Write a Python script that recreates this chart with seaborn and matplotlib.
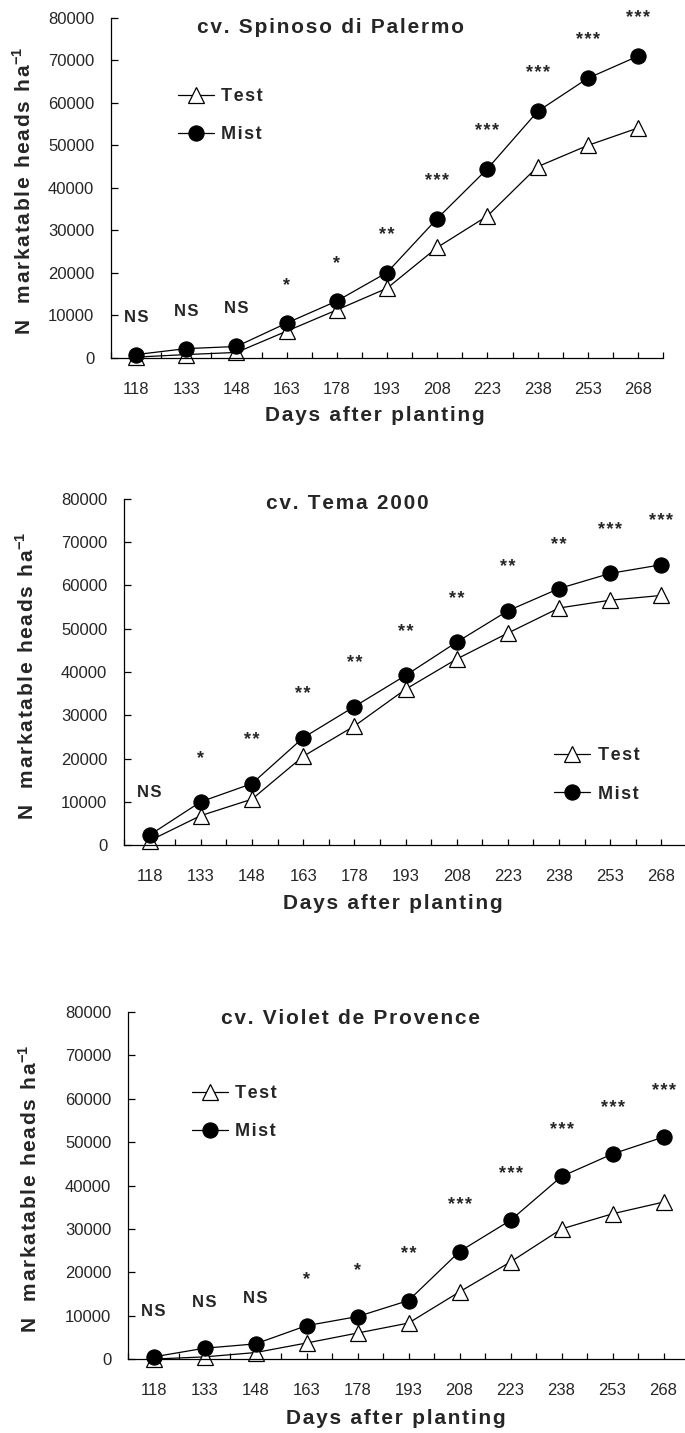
import numpy as np
import pandas as pd
import seaborn as sns
import matplotlib.pyplot as plt
from matplotlib.ticker import FixedLocator

# days after planting (x categories)
days = [118, 133, 148, 163, 178, 193, 208, 223, 238, 253, 268]

# cv. Spinoso di Palermo
spinoso_test = [200, 800, 1300, 6300, 11300, 16400, 26000, 33400, 45000, 50000, 54100]
spinoso_mist = [800, 2200, 2700, 8200, 13400, 20100, 32800, 44500, 58000, 65800, 71000]
spinoso_sig = ["NS", "NS", "NS", "*", "*", "**", "***", "***", "***", "***", "***"]

# cv. Tema 2000
tema_test = [1000, 6800, 10600, 20500, 27500, 36000, 43000, 49000, 54800, 56600, 57700]
tema_mist = [2300, 10000, 14200, 24800, 32000, 39200, 46900, 54150, 59300, 62800, 64800]
tema_sig = ["NS", "*", "**", "**", "**", "**", "**", "**", "**", "***", "***"]

# cv. Violet de Provence
violet_test = [0, 500, 1500, 3700, 6000, 8300, 15500, 22400, 30000, 33500, 36200]
violet_mist = [500, 2500, 3500, 7700, 9800, 13500, 24800, 32000, 42100, 47300, 51200]
violet_sig = ["NS", "NS", "NS", "*", "*", "**", "***", "***", "***", "***", "***"]

y_ticks = list(range(0, 80001, 10000))

sns.set_style("ticks")
plt.rcParams["font.family"] = ["Liberation Sans", "DejaVu Sans"]
plt.rcParams["mathtext.fontset"] = "custom"
plt.rcParams["mathtext.rm"] = "Liberation Sans"
plt.rcParams["mathtext.bf"] = "Liberation Sans:bold"

HAIR = "\u200a"


def spaced(s):
    # the original figure uses wide letter spacing in its bold labels
    return HAIR.join(s)


def draw_panel(ax, title, test, mist, sig, title_xy, legend_xy, sig_off, ylab_x):
    df = pd.DataFrame({"day": days, "Test": test, "Mist": mist})
    sns.lineplot(data=df, x="day", y="Test", ax=ax, color="black", lw=0.9,
                 marker="^", markersize=11, markerfacecolor="white",
                 markeredgecolor="black", markeredgewidth=0.9,
                 label=spaced("Test"), clip_on=False)
    sns.lineplot(data=df, x="day", y="Mist", ax=ax, color="black", lw=0.9,
                 marker="o", markersize=11, markerfacecolor="black",
                 markeredgecolor="black", label=spaced("Mist"), clip_on=False)

    for d, m, s in zip(days, mist, sig):
        ax.annotate(spaced(s), (d, m), xytext=(0, sig_off), textcoords="offset points",
                    ha="center", va="center",
                    fontsize=12 if s == "NS" else 13, fontweight="bold",
                    annotation_clip=False)

    step = (days[1] - days[0]) / 2
    ax.set_xlim(days[0] - step, days[-1] + step)
    ax.set_ylim(0, 80000)
    ax.set_xticks(days)
    ax.xaxis.set_minor_locator(FixedLocator(np.arange(days[0] - step, days[-1] + 2 * step, 2 * step)))
    ax.set_yticks(y_ticks)
    ax.tick_params(axis="x", which="both", direction="in", length=4, width=0.9,
                   pad=17, labelsize=12, color="black")
    ax.tick_params(axis="y", direction="in", length=5, width=0.9, pad=12,
                   labelsize=12, color="black")
    for sp in ["top", "right"]:
        ax.spines[sp].set_visible(False)
    for sp in ["left", "bottom"]:
        ax.spines[sp].set_color("black")
        ax.spines[sp].set_linewidth(0.9)

    ax.set_xlabel(spaced("Days after planting"), fontsize=15, fontweight="bold")
    ax.xaxis.set_label_coords(0.477, -0.17)
    ax.xaxis.label.set_va("center")
    ax.set_ylabel(spaced("N  markatable heads ha") + r"$^{\mathbf{-1}}$",
                  fontsize=15, fontweight="bold")
    ax.yaxis.set_label_coords(ylab_x, 0.49)
    ax.yaxis.label.set_va("center")

    ax.text(title_xy[0], title_xy[1], spaced(title), transform=ax.transAxes,
            ha="center", va="center", fontsize=15, fontweight="bold")

    ax.legend(loc="center left", bbox_to_anchor=legend_xy, frameon=False,
              borderpad=0, borderaxespad=0, handlelength=2.0,
              handletextpad=0.4, labelspacing=1.18,
              prop={"weight": "bold", "size": 13})


fig = plt.figure(figsize=(6.85, 14.33), dpi=100)
ax1 = fig.add_axes([0.162, 0.7502, 0.806, 0.2373])
ax2 = fig.add_axes([0.181, 0.4103, 0.822, 0.2415])
ax3 = fig.add_axes([0.1869, 0.0516, 0.819, 0.2421])

draw_panel(ax1, "cv. Spinoso di Palermo", spinoso_test, spinoso_mist, spinoso_sig,
           (0.397, 0.973), (0.121, 0.712), 27, -0.159)
draw_panel(ax2, "cv. Tema 2000", tema_test, tema_mist, tema_sig,
           (0.396, 0.988), (0.764, 0.202), 31, -0.174)
draw_panel(ax3, "cv. Violet de Provence", violet_test, violet_mist, violet_sig,
           (0.396, 0.983), (0.114, 0.71), 33, -0.175)

fig.savefig("out.png", dpi=100)
